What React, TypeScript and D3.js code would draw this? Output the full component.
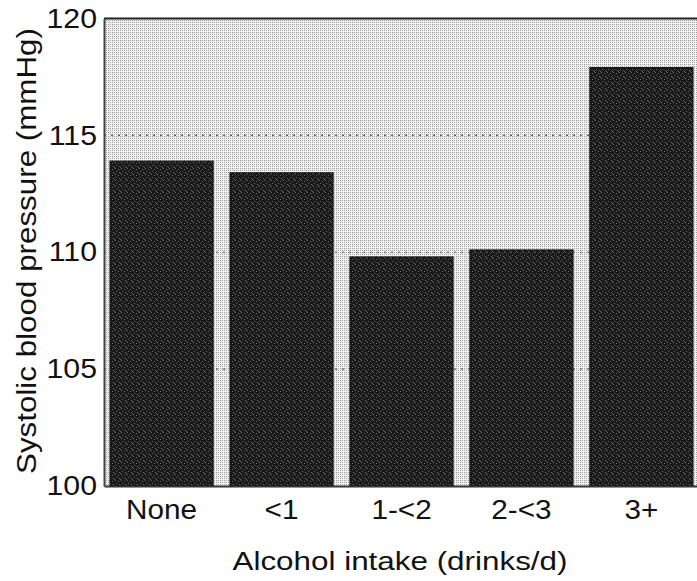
import React, { useEffect, useRef } from "react";
import * as d3 from "d3";

const categories = ["None", "<1", "1-<2", "2-<3", "3+"];
const pressure = [113.9, 113.4, 109.8, 110.1, 117.9];
const yTicks = [100, 105, 110, 115, 120];
const gridValues = [105, 110, 115];

const width = 697;
const height = 581;
const font = "Liberation Sans, Arial, sans-serif";

// the scanned type is a little wider than Arial
const stretch = (sel: d3.Selection<any, any, any, any>, k: number) => {
  sel.each(function () {
    const t = this as SVGTextElement;
    const len = t.getComputedTextLength();
    t.setAttribute("textLength", String(len * k));
    t.setAttribute("lengthAdjust", "spacingAndGlyphs");
  });
};

const App = () => {
  const ref = useRef<SVGSVGElement>(null);

  useEffect(() => {
    const svg = d3.select(ref.current);
    svg.selectAll("*").remove();

    const left = 104;
    const right = 699;
    const top = 18.5;
    const bottom = 486;

    const defs = svg.append("defs");

    const bg = defs
      .append("pattern")
      .attr("id", "stipple")
      .attr("width", 4)
      .attr("height", 4)
      .attr("patternUnits", "userSpaceOnUse");
    bg.append("rect").attr("width", 4).attr("height", 4).attr("fill", "#f2f2f2");
    [[0, 0, "#979797"], [2, 0, "#adadad"], [0, 2, "#adadad"], [2, 2, "#a2a2a2"], [1, 1, "#d0d0d0"]].forEach(
      ([px, py, c]) => {
        bg.append("rect").attr("x", px).attr("y", py).attr("width", 1).attr("height", 1).attr("fill", c as string);
      }
    );

    const dark = defs
      .append("pattern")
      .attr("id", "grain")
      .attr("width", 6)
      .attr("height", 6)
      .attr("patternUnits", "userSpaceOnUse");
    dark.append("rect").attr("width", 6).attr("height", 6).attr("fill", "#191919");
    [[1, 0], [4, 1], [2, 3], [5, 4], [0, 5]].forEach(([px, py]) => {
      dark
        .append("rect")
        .attr("x", px)
        .attr("y", py)
        .attr("width", 1)
        .attr("height", 1)
        .attr("fill", "#6a6a6a");
    });

    const x = d3
      .scaleBand()
      .domain(categories)
      .range([left, right])
      .paddingInner(0.14)
      .paddingOuter(0.05);

    const y = d3.scaleLinear().domain([100, 120]).range([bottom, top]);

    svg
      .append("rect")
      .attr("x", left)
      .attr("y", top)
      .attr("width", right - left)
      .attr("height", bottom - top)
      .attr("fill", "url(#stipple)");

    svg
      .append("g")
      .selectAll("line")
      .data(gridValues)
      .enter()
      .append("line")
      .attr("x1", left)
      .attr("x2", right)
      .attr("y1", (d) => y(d))
      .attr("y2", (d) => y(d))
      .attr("stroke", "#555")
      .attr("stroke-width", 1.2)
      .attr("stroke-dasharray", "2,5");

    svg
      .append("g")
      .selectAll("rect")
      .data(pressure)
      .enter()
      .append("rect")
      .attr("x", (d, i) => x(categories[i]) as number)
      .attr("y", (d) => y(d))
      .attr("width", x.bandwidth())
      .attr("height", (d) => bottom - y(d))
      .attr("fill", "url(#grain)")
      .attr("stroke", "#111")
      .attr("stroke-width", 1);

    svg
      .append("line")
      .attr("x1", left)
      .attr("x2", right)
      .attr("y1", top)
      .attr("y2", top)
      .attr("stroke", "#222")
      .attr("stroke-width", 2);

    const yAxis = svg
      .append("g")
      .attr("transform", `translate(${left},0)`)
      .call(d3.axisLeft(y).tickValues(yTicks).tickSize(0).tickPadding(7).tickFormat(d3.format("d")));
    yAxis.select(".domain").attr("stroke", "#444").attr("stroke-width", 2);
    const yText = yAxis
      .selectAll("text")
      .attr("font-family", font)
      .attr("font-size", 27)
      .attr("fill", "#111");
    stretch(yText, 1.12);

    const xAxis = svg
      .append("g")
      .attr("transform", `translate(0,${bottom})`)
      .call(d3.axisBottom(x).tickSize(0).tickPadding(14));
    xAxis.select(".domain").attr("stroke", "#333").attr("stroke-width", 2);
    const xText = xAxis
      .selectAll("text")
      .attr("font-family", font)
      .attr("font-size", 27)
      .attr("fill", "#111");
    stretch(xText, 1.1);

    svg
      .append("text")
      .attr("x", 400)
      .attr("y", 570)
      .attr("text-anchor", "middle")
      .attr("font-family", font)
      .attr("font-size", 26)
      .attr("fill", "#111")
      .attr("textLength", 335)
      .attr("lengthAdjust", "spacingAndGlyphs")
      .text("Alcohol intake (drinks/d)");

    svg
      .append("text")
      .attr("transform", `translate(36,251) rotate(-90)`)
      .attr("text-anchor", "middle")
      .attr("font-family", font)
      .attr("font-size", 27)
      .attr("fill", "#111")
      .attr("textLength", 446)
      .attr("lengthAdjust", "spacingAndGlyphs")
      .text("Systolic blood pressure (mmHg)");
  }, []);

  return (
    <div>
      <svg
        ref={ref}
        width={width}
        height={height}
        style={{ position: "absolute", left: 0, top: 0, background: "#fff" }}
      />
    </div>
  );
};

export default App;
